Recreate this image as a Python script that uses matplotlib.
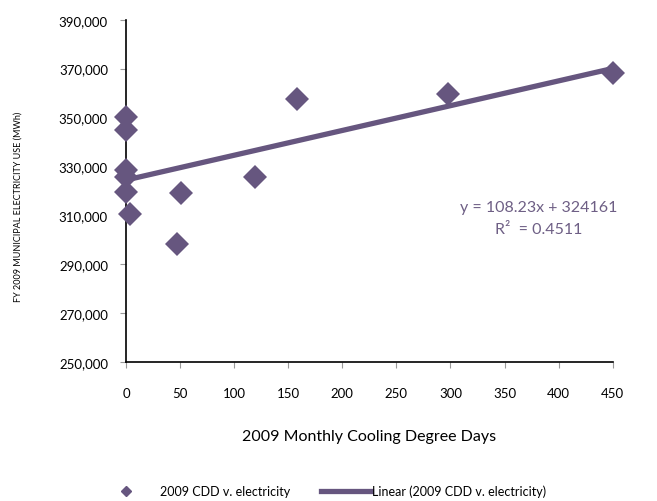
import numpy as np
import matplotlib
matplotlib.use("Agg")
import matplotlib.pyplot as plt
from matplotlib.lines import Line2D

# monthly cooling degree days vs municipal electricity use
cdd = [0, 0, 0, 0, 0, 4, 47, 51, 119, 158, 298, 450]
mwh = [350000, 345000, 328500, 325500, 319500, 310500,
       298000, 319000, 325400, 357500, 359600, 368200]
xticks = [0, 50, 100, 150, 200, 250, 300, 350, 400, 450]
yticks = [250000, 270000, 290000, 310000, 330000, 350000, 370000, 390000]
eq_text = "y = 108.23x + 324161\nR\u00b2  = 0.4511"

purple = "#66567f"
plt.rcParams['font.family'] = ['Lato', 'DejaVu Sans']

fig = plt.figure(figsize=(6.57, 5.02), dpi=100)
ax = fig.add_axes([0.1918, 0.2775, 0.7408, 0.6813])

x = np.array(cdd)
y = np.array(mwh)
slope, icpt = np.polyfit(x, y, 1)
xl = np.array([0, x.max()])
ax.plot(xl, slope * xl + icpt, color=purple, lw=3.8, solid_capstyle='butt', zorder=2)
ax.plot(x, y, 'D', color=purple, ms=12, mew=0, zorder=3, clip_on=False)

ax.set_xlim(0, 450)
ax.set_ylim(250000, 390000)
ax.set_xticks(xticks)
ax.set_yticks(yticks)
ax.set_yticklabels([f"{v:,}" for v in yticks])
for s in ['top', 'right']:
    ax.spines[s].set_visible(False)
for s in ['left', 'bottom']:
    ax.spines[s].set_linewidth(1.2)
ax.tick_params(axis='both', direction='out', length=4, color='#999999', labelsize=9.5)
ax.tick_params(axis='x', pad=14)
ax.tick_params(axis='y', pad=9)

ax.text(382, 316000, eq_text, ha='center', va='top', color='#6e5f85',
        fontsize=11.5, linespacing=1.65)

fig.text(0.027, 0.588, "FY 2009 MUNICIPAL ELECTRICITY USE (MWh)", rotation=90,
         ha='center', va='center', fontsize=6.5)
fig.text(0.562, 0.129, "2009 Monthly Cooling Degree Days", ha='center', va='center',
         fontsize=11.5)

h1 = [Line2D([], [], marker='D', ls='none', color=purple, ms=5)]
h2 = [Line2D([], [], color=purple, lw=3.8)]
fig.legend(h1, ["2009 CDD v. electricity"], loc='center left',
           bbox_to_anchor=(0.177, 0.02), frameon=False, fontsize=9,
           handlelength=1.5, handletextpad=2.0, borderaxespad=0, borderpad=0)
fig.legend(h2, ["Linear (2009 CDD v. electricity)"], loc='center left',
           bbox_to_anchor=(0.488, 0.02), frameon=False, fontsize=9,
           handlelength=4.0, handletextpad=0.15, borderaxespad=0, borderpad=0)

fig.savefig("out.png", dpi=100)
